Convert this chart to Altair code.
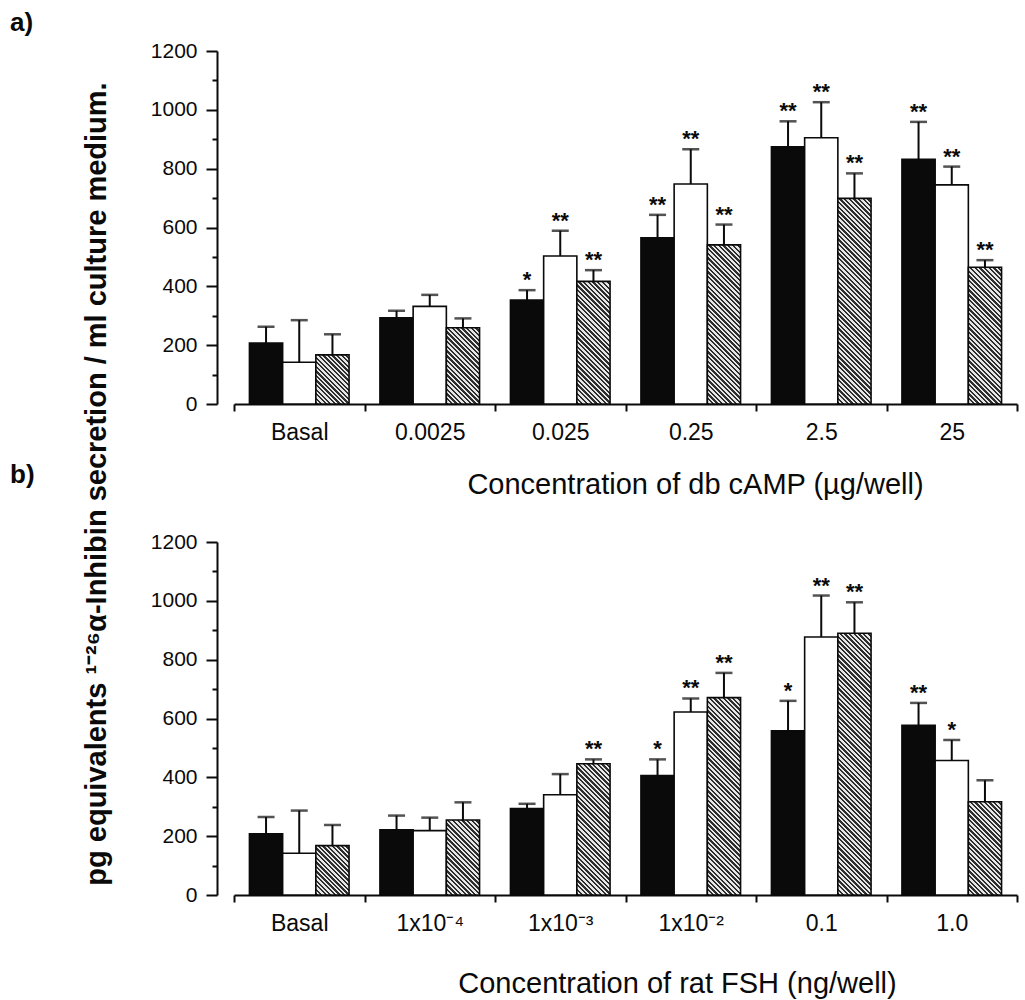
import math
import altair as alt

# Three treatment series drawn side by side in every dose group
SERIES = ["solid", "open", "hatched"]

# a) db cAMP dose response
camp_doses = ["Basal", "0.0025", "0.025", "0.25", "2.5", "25"]
camp_solid = [207, 293, 353, 565, 874, 832]
camp_solid_se = [56, 24, 34, 78, 87, 127]
camp_open = [142, 332, 503, 748, 905, 745]
camp_open_se = [143, 39, 86, 118, 121, 62]
camp_hatched = [167, 259, 417, 541, 699, 465]
camp_hatched_se = [70, 32, 38, 69, 85, 24]
camp_solid_sig = ["", "", "*", "**", "**", "**"]
camp_open_sig = ["", "", "**", "**", "**", "**"]
camp_hatched_sig = ["", "", "**", "**", "**", "**"]

# b) rat FSH dose response
fsh_doses = ["Basal", "1x10\u207b\u2074", "1x10\u207b\u00b3", "1x10\u207b\u00b2", "0.1", "1.0"]
fsh_solid = [208, 222, 294, 406, 558, 577]
fsh_solid_se = [57, 48, 16, 55, 102, 76]
fsh_open = [142, 219, 341, 622, 877, 457]
fsh_open_se = [145, 44, 70, 46, 141, 70]
fsh_hatched = [168, 255, 446, 671, 890, 317]
fsh_hatched_se = [70, 60, 15, 84, 105, 73]
fsh_solid_sig = ["", "", "", "*", "*", "**"]
fsh_open_sig = ["", "", "", "**", "**", "*"]
fsh_hatched_sig = ["", "", "**", "**", "**", ""]

Y_TITLE = "pg equivalents \u00b9\u207b\u00b2\u2076\u03b1-Inhibin secretion / ml culture medium."
CAMP_TITLE = "Concentration of db cAMP (\u00b5g/well)"
FSH_TITLE = "Concentration of rat FSH (ng/well)"

# layout
PLOT_W = 783
PLOT_H = 353
GAP = 138
Y_MAX = 1200
GROUP_PAD = 0.465
BAR_W = (PLOT_W / 6) / (3 + 2 * GROUP_PAD)
HATCH_PERIOD = 3.3
HATCH_DARK = "#2e2e2e"
HATCH_LIGHT = "#e6e6e6"
FONT = "Liberation Sans"


def hatch_fill(value):
    """Diagonal stripe fill built as a banded linear gradient for one bar."""
    h = max(value * PLOT_H / Y_MAX, 1.0)
    w = BAR_W
    k = 1.0 / (h + w)
    a, b = w * k, -h * k
    n2 = a * a + b * b
    dx, dy = a / n2, b / n2
    periods = max(1, round((h + w) / (math.sqrt(2) * HATCH_PERIOD)))
    stops = []
    for i in range(periods):
        s, m, e = i / periods, (i + 0.5) / periods, (i + 1) / periods
        stops += [
            {"offset": round(s, 5), "color": HATCH_DARK},
            {"offset": round(m, 5), "color": HATCH_DARK},
            {"offset": round(m, 5), "color": HATCH_LIGHT},
            {"offset": round(e, 5), "color": HATCH_LIGHT},
        ]
    return {"gradient": "linear", "x1": 0, "y1": 1,
            "x2": round(dx, 5), "y2": round(1 + dy, 5), "stops": stops}


def build_records(doses, vals, ses, sigs):
    rows = []
    for i, dose in enumerate(doses):
        for s, name in enumerate(SERIES):
            v = vals[s][i]
            if name == "solid":
                fill = "#0a0a0a"
            elif name == "open":
                fill = "#ffffff"
            else:
                fill = hatch_fill(v)
            rows.append({"dose": dose, "series": name, "value": v,
                         "top": v + ses[s][i], "sig": sigs[s][i], "fill": fill})
    return rows


def panel(rows, doses, title, title_x, title_y, extras=()):
    base = alt.Chart(alt.Data(values=rows))
    x = alt.X("dose:N", sort=doses,
              scale=alt.Scale(paddingInner=0, paddingOuter=0),
              axis=alt.Axis(title=title, tickBand="extent", labelAngle=0,
                            tickSize=7, labelPadding=10, labelFontSize=23,
                            titleFontSize=29, titleFontWeight="normal",
                            titleX=title_x, titleY=title_y,
                            titleAlign="center", titleBaseline="top"))
    xo = alt.XOffset("series:N", sort=SERIES,
                     scale=alt.Scale(paddingInner=0, paddingOuter=GROUP_PAD))
    y_axis = alt.Axis(title=None, values=list(range(0, 1201, 100)), format="d",
                      labelExpr="datum.value % 200 === 0 ? datum.label : ''",
                      tickSize={"condition": {"test": "datum.value % 200 === 0", "value": 11},
                                "value": 5},
                      offset=17, labelPadding=9, labelFontSize=21, grid=False)
    yscale = alt.Scale(domain=[0, Y_MAX], nice=False)

    bars = base.mark_bar(stroke="#0a0a0a", strokeWidth=1.6).encode(
        x=x, xOffset=xo,
        y=alt.Y("value:Q", scale=yscale, stack=None, axis=y_axis),
        fill=alt.Fill("fill:N", scale=None),
    )
    whisker = base.mark_rule(color="#0a0a0a", strokeWidth=2).encode(
        x=x, xOffset=xo,
        y=alt.Y("value:Q", scale=yscale, axis=y_axis), y2="top:Q",
    )
    cap = base.mark_tick(color="#0a0a0a", size=17, thickness=2.5).encode(
        x=x, xOffset=xo,
        y=alt.Y("top:Q", scale=yscale, axis=y_axis),
    )
    stars = base.mark_text(font=FONT, fontSize=22, fontWeight="bold",
                           color="#0a0a0a", baseline="alphabetic", dy=-3).encode(
        x=x, xOffset=xo,
        y=alt.Y("top:Q", scale=yscale, axis=y_axis),
        text="sig:N",
    )
    return alt.layer(bars, whisker, cap, stars, *extras).properties(
        width=PLOT_W, height=PLOT_H)


def label(text, x, y, font=FONT, **kw):
    return alt.Chart(alt.Data(values=[{"t": text}])).mark_text(
        font=font, color="#0a0a0a", **kw).encode(
        x=alt.value(x), y=alt.value(y), text="t:N")


camp_rows = build_records(camp_doses,
                          [camp_solid, camp_open, camp_hatched],
                          [camp_solid_se, camp_open_se, camp_hatched_se],
                          [camp_solid_sig, camp_open_sig, camp_hatched_sig])
fsh_rows = build_records(fsh_doses,
                         [fsh_solid, fsh_open, fsh_hatched],
                         [fsh_solid_se, fsh_open_se, fsh_hatched_se],
                         [fsh_solid_sig, fsh_open_sig, fsh_hatched_sig])

top_extras = [
    label("a)", -224, -28, fontSize=26, fontWeight="bold", align="left"),
    label(Y_TITLE, -128, 433, fontSize=29, fontWeight="bold",
          angle=270, align="center", baseline="alphabetic"),
]
bottom_extras = [
    label("b)", -224, -67, fontSize=26, fontWeight="bold", align="left"),
]

top = panel(camp_rows, camp_doses, CAMP_TITLE, 461, 66, top_extras)
bottom = panel(fsh_rows, fsh_doses, FSH_TITLE, 443, 74, bottom_extras)

chart = alt.VConcatChart(
    vconcat=[top, bottom], spacing=GAP, bounds="flush",
    padding={"left": 10, "top": 10, "right": 2, "bottom": 2},
).configure(font=FONT).configure_view(stroke=None).configure_axis(
    domainColor="#0a0a0a", tickColor="#0a0a0a", labelColor="#0a0a0a",
    titleColor="#0a0a0a", domainWidth=2, tickWidth=2, labelFont=FONT,
    titleFont=FONT,
)

chart.save("out.html", embed_options={"renderer": "svg", "actions": False})
